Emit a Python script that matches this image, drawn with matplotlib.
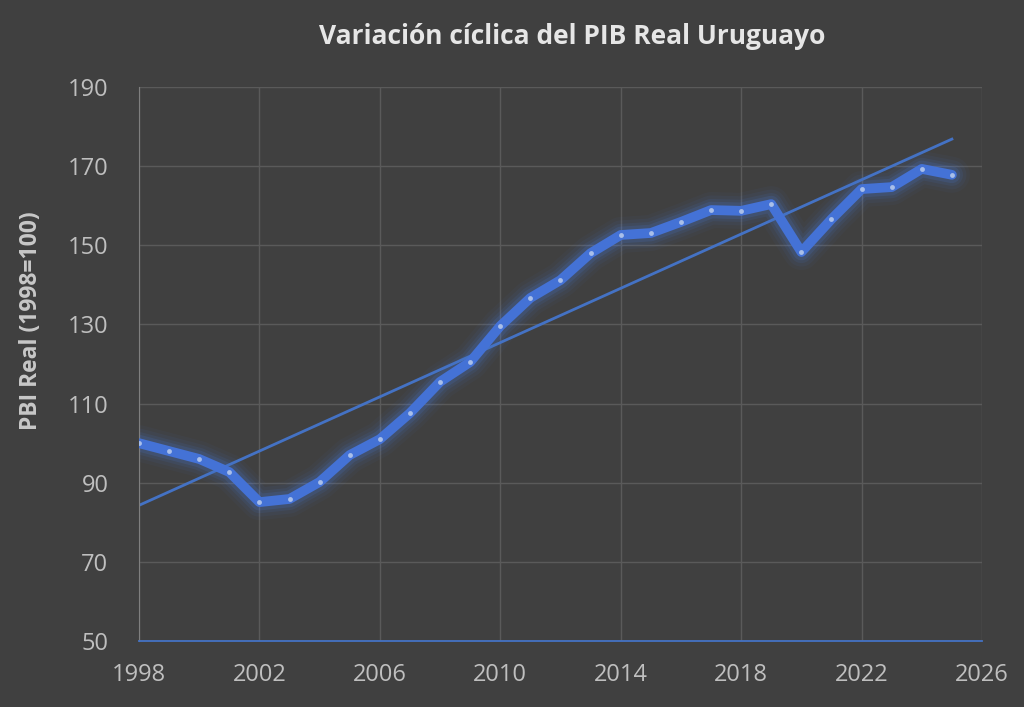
import matplotlib
matplotlib.use("Agg")
import matplotlib.pyplot as plt
import numpy as np

years = list(range(1998, 2026))
pib = [100.0, 98.0, 96.0, 92.7, 85.1, 85.9, 90.2, 97.0, 101.0, 107.6, 115.5, 120.5,
       129.6, 136.7, 141.2, 148.0, 152.6, 153.1, 155.9, 158.9, 158.7, 160.4, 148.3,
       156.6, 164.2, 164.7, 169.3, 167.8]
x_ticks = [1998, 2002, 2006, 2010, 2014, 2018, 2022, 2026]
y_ticks = [50, 70, 90, 110, 130, 150, 170, 190]
title = "Variación cíclica del PIB Real Uruguayo"
ylabel = "PBI Real (1998=100)"

plt.rcParams['font.family'] = ['Open Sans', 'DejaVu Sans']
bg = '#404040'
fig = plt.figure(figsize=(10.24, 7.07), dpi=100, facecolor=bg)
ax = fig.add_axes([0.1357, 0.0933, 0.8233, 0.7837], facecolor=bg)

x = np.array(years, dtype=float)
y = np.array(pib)

# glow
for lw, a in [(26, 0.04), (21, 0.06), (16, 0.09), (12, 0.14)]:
    ax.plot(x, y, color='#4a7fe8', lw=lw, alpha=a, solid_capstyle='round',
            solid_joinstyle='round', zorder=2)
ax.plot(x, y, color='#4472d6', lw=7, solid_capstyle='round',
        solid_joinstyle='round', zorder=3)
ax.plot(x, y, ls='none', marker='o', ms=3.5, color='#a9bfe9', mec='none', zorder=4)

# linear trendline
c = np.polyfit(x, y, 1)
xt = np.array([years[0], years[-1]], dtype=float)
ax.plot(xt, np.polyval(c, xt), color='#4472c4', lw=2, zorder=2.5)

ax.set_xlim(1998, 2026)
ax.set_ylim(50, 190)
ax.set_xticks(x_ticks)
ax.set_yticks(y_ticks)
ax.grid(True, color='#5a5a5a', lw=1)
ax.set_axisbelow(True)
for s in ['top', 'right']:
    ax.spines[s].set_visible(False)
ax.spines['left'].set_color('#7f7f7f')
ax.spines['bottom'].set_color('#4472c4')
ax.spines['bottom'].set_linewidth(1.3)
ax.tick_params(length=0, colors='#bfbfbf', labelsize=17)
ax.tick_params(axis='y', pad=22)
ax.tick_params(axis='x', pad=16)

ax.set_ylabel(ylabel, color='#c8c8c8', fontsize=16.5, fontweight='bold')
ax.yaxis.set_label_coords(-0.114, 0.578)
fig.text(0.559, 0.948, title, ha='center', va='center', color='#e6e6e6',
         fontsize=19, fontweight='bold')

fig.savefig('out.png', dpi=100, facecolor=bg)
